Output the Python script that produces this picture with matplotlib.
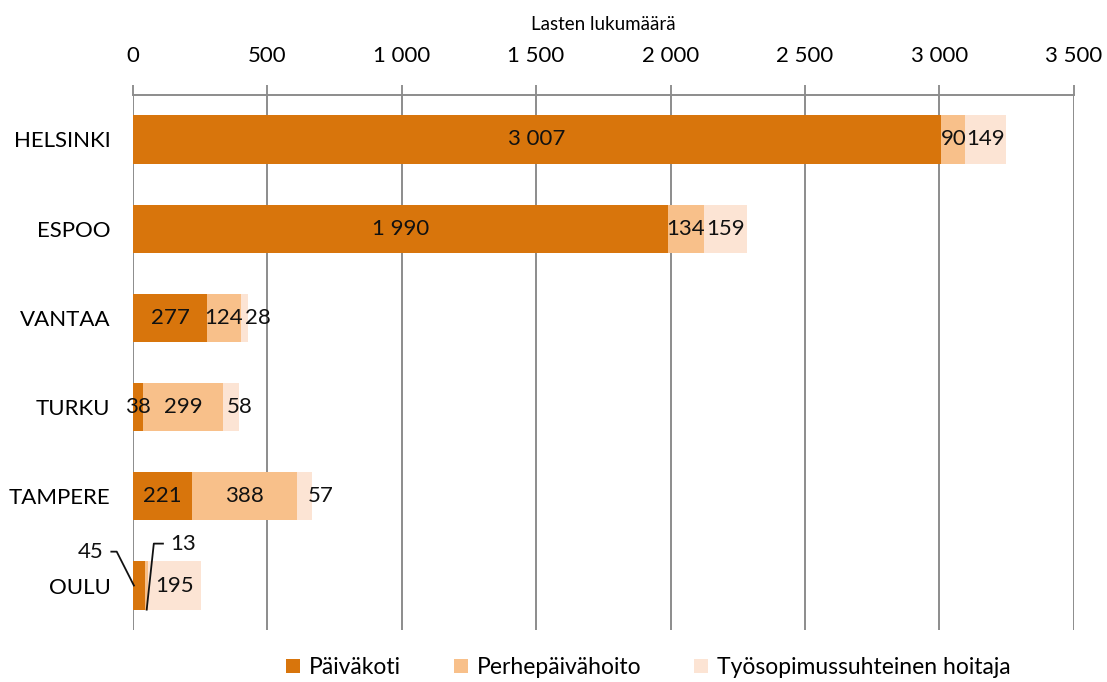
import matplotlib.pyplot as plt
import numpy as np

# %% Data
cities = ['HELSINKI', 'ESPOO', 'VANTAA', 'TURKU', 'TAMPERE', 'OULU']
paivakoti = [3007, 1990, 277, 38, 221, 45]
perhepaivahoito = [90, 134, 124, 299, 388, 13]
tyosopimus = [149, 159, 28, 58, 57, 195]
series_names = ['Päiväkoti', 'Perhepäivähoito', 'Työsopimussuhteinen hoitaja']
colors = ['#D8750C', '#F8C08A', '#FCE4D4']
xticks = np.arange(0, 3501, 500)

# small label nudges (Excel puts narrow-segment labels a bit to the right)
nudge = {(2, 2): 50, (3, 2): 30, (4, 2): 60}


def fmt(v):
    return f'{v:,}'.replace(',', ' ')


plt.rcParams['font.family'] = ['Lato', 'DejaVu Sans']
fs = 16

fig = plt.figure(figsize=(11.07, 6.82), dpi=100)
ax = fig.add_axes([0.120, 0.076, 0.850, 0.785])

y = np.arange(len(cities))
h = 0.54
left = np.zeros(len(cities))
bars = []
for vals, name, c in zip([paivakoti, perhepaivahoito, tyosopimus], series_names, colors):
    b = ax.barh(y, vals, left=left, height=h, color=c, label=name, zorder=3)
    bars.append((vals, left.copy()))
    left = left + np.array(vals)

# data labels
for si, (vals, lft) in enumerate(bars):
    for i, v in enumerate(vals):
        if cities[i] == 'OULU' and si < 2:
            continue
        ax.text(lft[i] + v / 2 + nudge.get((i, si), 0), y[i], fmt(v), ha='center', va='center',
                fontsize=fs, color='#111111', zorder=5)

# OULU leader labels
io = cities.index('OULU')
ax.text(-110, io - 0.38, fmt(paivakoti[io]), ha='right', va='center', fontsize=fs,
        color='#111111', clip_on=False)
ax.plot([-80, -60, 4], [io - 0.38, io - 0.38, io], color='#111111', lw=1.3, zorder=6,
        clip_on=False)
x13 = paivakoti[io] + perhepaivahoito[io] / 2
ax.text(138, io - 0.47, fmt(perhepaivahoito[io]), ha='left', va='center', fontsize=fs,
        color='#111111')
ax.plot([112, 78, x13], [io - 0.47, io - 0.47, io + 0.27], color='#111111', lw=1.3, zorder=6)

ax.set_xlim(0, 3500)
ax.set_ylim(len(cities) - 0.5, -0.5)
ax.set_yticks(y)
ax.set_yticklabels(cities, fontsize=fs)
ax.tick_params(axis='y', length=0, pad=16)

ax.xaxis.tick_top()
ax.xaxis.set_label_position('top')
ax.set_xticks(xticks)
ax.set_xticklabels([fmt(v) for v in xticks], fontsize=fs)
ax.tick_params(axis='x', length=7, width=1.3, color='#888888', pad=14)
ax.set_xlabel('Lasten lukumäärä', fontsize=13.5, labelpad=11)
ax.grid(axis='x', color='#8c8c8c', lw=1.4, zorder=0)

for s in ['right', 'bottom', 'left']:
    ax.spines[s].set_visible(False)
ax.spines['top'].set_color('#8c8c8c')
ax.spines['top'].set_linewidth(1.4)

ax.legend(loc='upper center', bbox_to_anchor=(0.548, -0.012), ncol=3, frameon=False,
          fontsize=16.5, handlelength=0.6, handleheight=0.6, handletextpad=0.4,
          columnspacing=2.3)

fig.savefig('out.png', dpi=100)
